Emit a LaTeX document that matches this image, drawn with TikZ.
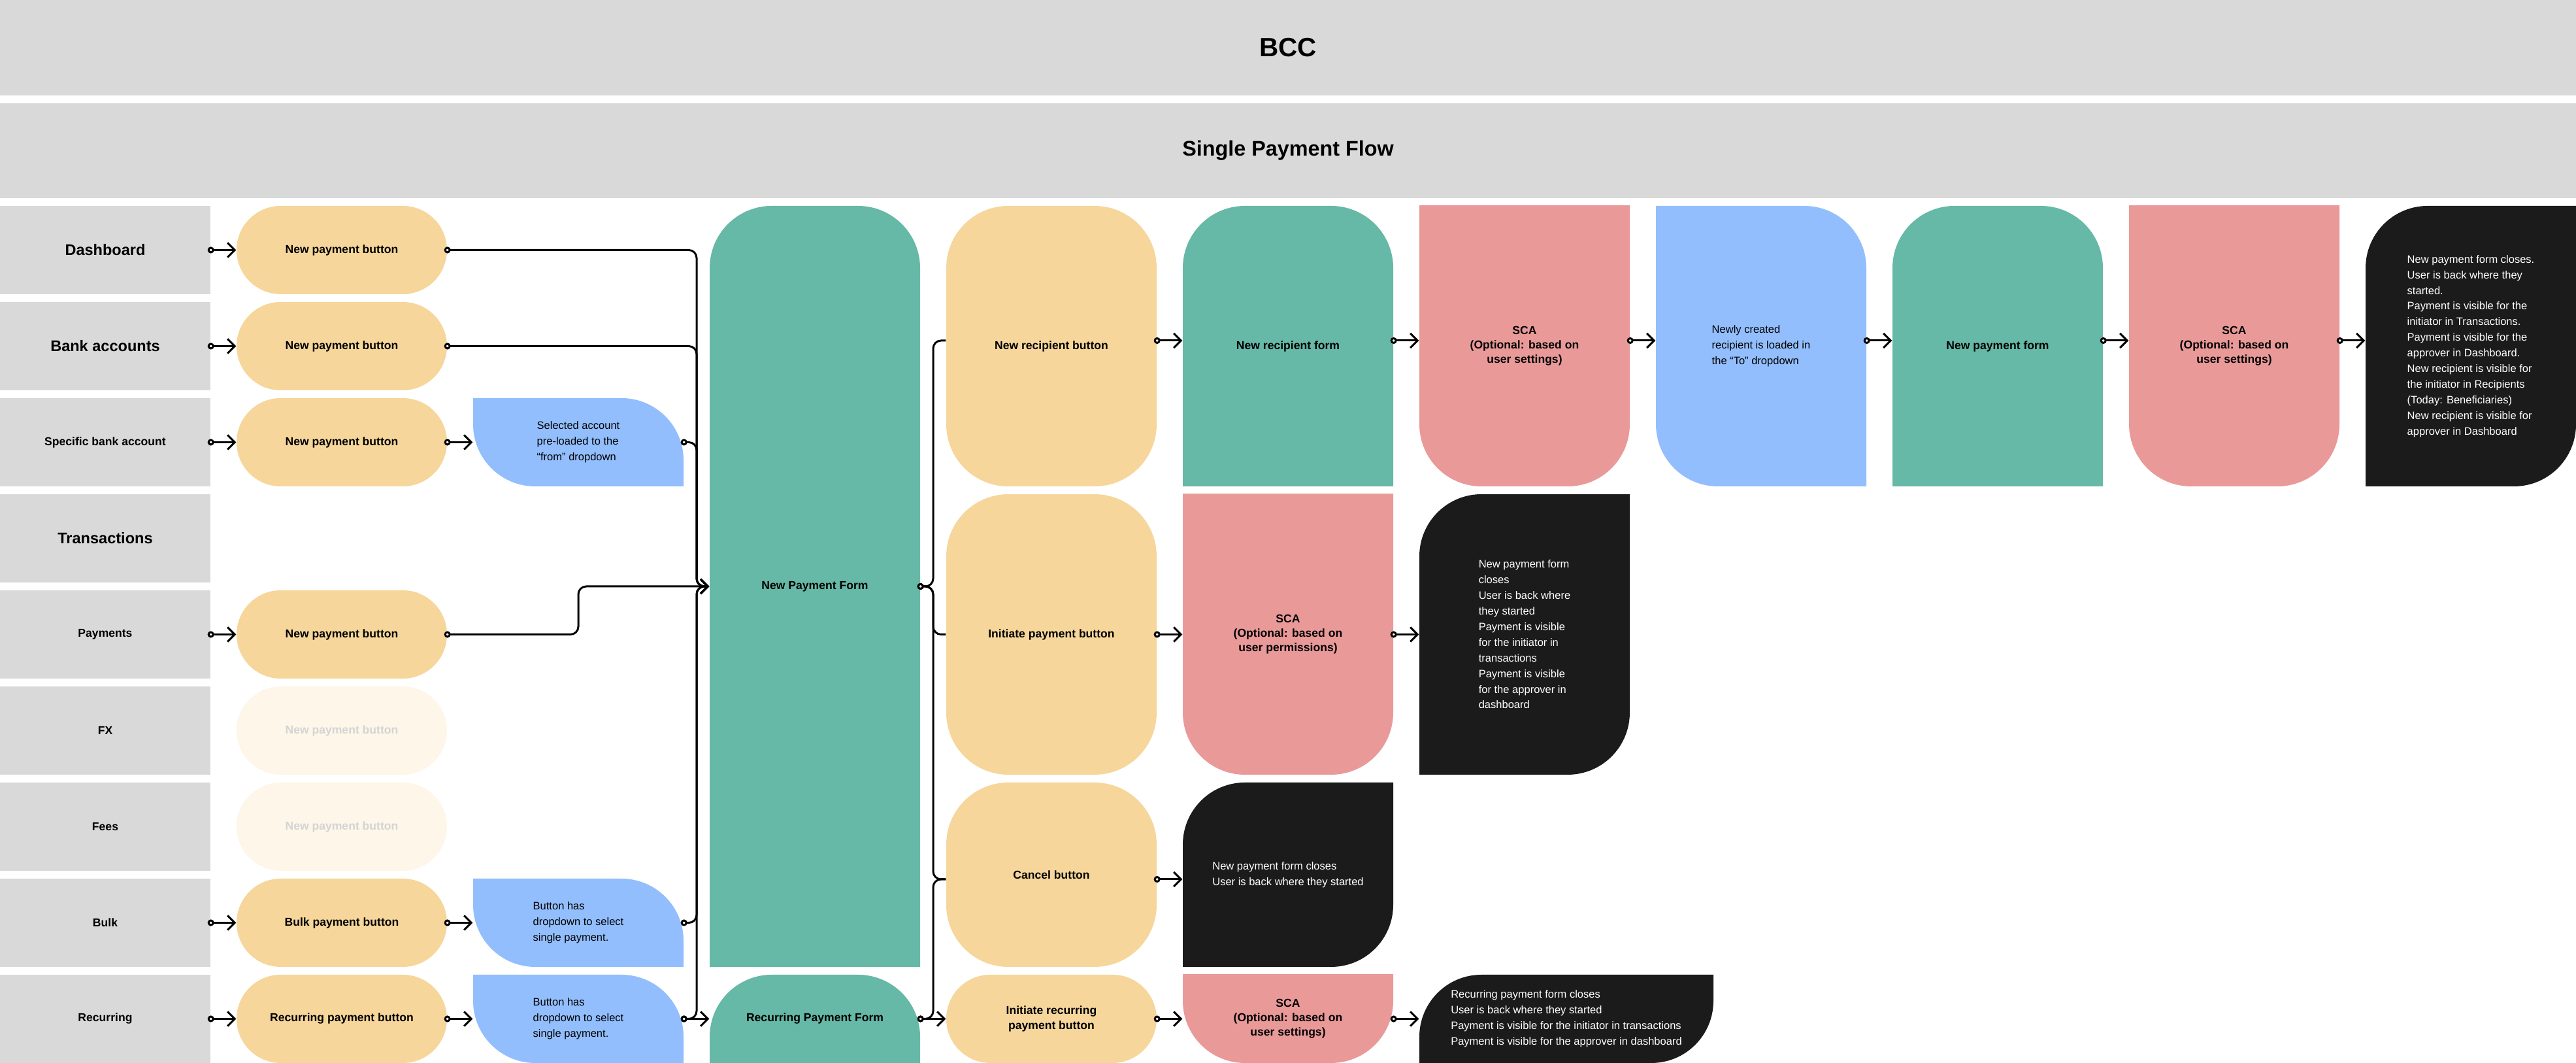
\documentclass[tikz,border=0pt]{standalone}
\usepackage{fontspec}
\setmainfont{Liberation Sans}
\usetikzlibrary{arrows.meta}
\definecolor{bandgray}{HTML}{D9D9D9}
\definecolor{btnyellow}{HTML}{F6D69B}
\definecolor{formgreen}{HTML}{66B8A7}
\definecolor{scapink}{HTML}{EA9999}
\definecolor{infoblue}{HTML}{93BEFD}
\definecolor{endblack}{HTML}{1B1B1B}
\definecolor{fadeyellow}{HTML}{FDF6E9}
\definecolor{fadetext}{HTML}{D4D4D4}

\begin{document}
\begin{tikzpicture}[
	base/.style={ rectangle, fill=white, inner sep=0pt, minimum width=3.22cm, minimum height=1.35cm, align=center, font=\fontsize{5}{6.3}\selectfont\bfseries },
	band/.style={ base, fill=bandgray, minimum width=39.42cm },
	lab/.style={ base, fill=bandgray },
	labbig/.style={ lab, font=\fontsize{6.7}{8}\selectfont\bfseries },
	pill/.style={ base, fill=#1, rounded corners=6.75mm },
	allround/.style={ base, fill=#1, rounded corners=9.5mm },
	toparc/.style={ base, path picture={ \fill[#1, rounded corners=9.5mm] ([yshift=-2cm]path picture bounding box.south west) rectangle (path picture bounding box.north east); } },
	botarc/.style={ base, path picture={ \fill[#1, rounded corners=9.5mm] (path picture bounding box.south west) rectangle ([yshift=2cm]path picture bounding box.north east); } },
	leaf/.style={ base, path picture={
		\clip[rounded corners=9.5mm] (path picture bounding box.south west) rectangle ([shift={(2cm,2cm)}]path picture bounding box.north east);
		\fill[#1, rounded corners=9.5mm] ([shift={(-2cm,-2cm)}]path picture bounding box.south west) rectangle (path picture bounding box.north east); } },
	wing/.style={ base, path picture={
		\clip[rounded corners=9.5mm] (path picture bounding box.north west) rectangle ([shift={(2cm,-2cm)}]path picture bounding box.south east);
		\fill[#1, rounded corners=9.5mm] ([shift={(-2cm,2cm)}]path picture bounding box.north west) rectangle (path picture bounding box.south east); } },
	hint/.style={ leaf=infoblue, align=left, font=\fontsize{4.7}{6.8}\selectfont },
	endnote/.style={ wing=endblack, align=left, text=white, font=\fontsize{4.7}{6.8}\selectfont },
	faded/.style={ pill=fadeyellow, text=fadetext },
	conn/.style={ line width=0.85pt, rounded corners=1.2mm, {Circle[length=1mm, width=1mm, fill=white]}-{Straight Barb[length=1.1mm, width=2.2mm]}, shorten <=-0.5mm },
	conno/.style={ line width=0.85pt, rounded corners=1.2mm, {Circle[length=1mm, width=1mm, fill=white]}-, shorten <=-0.5mm }
]
\useasboundingbox (0,0) rectangle (39.42,16.26);

\node[band, minimum height=1.46cm, font=\fontsize{11.5}{14}\selectfont\bfseries] at (19.71,15.53) (bcc) {BCC};
\node[band, minimum height=1.45cm, font=\fontsize{9.2}{11}\selectfont\bfseries] at (19.71,13.955) (spf) {Single Payment Flow};

% entry points
\node[labbig] at (1.61,12.435) (l1) {Dashboard};
\node[labbig] at (1.61,10.965) (l2) {Bank accounts};
\node[lab] at (1.61,9.495) (l3) {Specific bank account};
\node[labbig] at (1.61,8.025) (l4) {Transactions};
\node[lab] at (1.61,6.555) (l5) {Payments};
\node[lab] at (1.61,5.085) (l6) {FX};
\node[lab] at (1.61,3.615) (l7) {Fees};
\node[lab] at (1.61,2.145) (l8) {Bulk};
\node[lab] at (1.61,0.675) (l9) {Recurring};

\node[pill=btnyellow] at (5.23,12.435) (b1) {New payment button};
\node[pill=btnyellow] at (5.23,10.965) (b2) {New payment button};
\node[pill=btnyellow] at (5.23,9.495) (b3) {New payment button};
\node[pill=btnyellow] at (5.23,6.555) (b5) {New payment button};
\node[faded] at (5.23,5.085) (b6) {New payment button};
\node[faded] at (5.23,3.615) (b7) {New payment button};
\node[pill=btnyellow] at (5.23,2.145) (b8) {Bulk payment button};
\node[pill=btnyellow] at (5.23,0.675) (b9) {Recurring payment button};

\node[hint] at (8.85,9.495) (s3) {Selected account\\pre-loaded to the\\“from” dropdown};
\node[hint] at (8.85,2.145) (s8) {Button has\\dropdown to select\\single payment.};
\node[hint] at (8.85,0.675) (s9) {Button has\\dropdown to select\\single payment.};

% forms
\node[toparc=formgreen, minimum height=11.64cm] at (12.47,7.29) (npf) {New Payment Form};
\node[toparc=formgreen] at (12.47,0.675) (rpf) {Recurring Payment Form};

\node[allround=btnyellow, minimum height=4.29cm] at (16.09,10.965) (nrb) {New recipient button};
\node[allround=btnyellow, minimum height=4.29cm] at (16.09,6.555) (ipb) {Initiate payment button};
\node[allround=btnyellow, minimum height=2.82cm] at (16.09,2.88) (cb) {Cancel button};
\node[pill=btnyellow] at (16.09,0.675) (irb) {Initiate recurring\\payment button};

\node[toparc=formgreen, minimum height=4.29cm] at (19.71,10.965) (nrf) {New recipient form};
\node[botarc=scapink, minimum height=4.29cm] at (19.71,6.555) (sca2) {SCA\\(Optional: based on\\user permissions)};
\node[endnote, minimum height=2.82cm] at (19.71,2.88) (cend) {New payment form closes\\User is back where they started};
\node[botarc=scapink] at (19.71,0.675) (sca4) {SCA\\(Optional: based on\\user settings)};

\node[botarc=scapink, minimum height=4.29cm] at (23.33,10.965) (sca1) {SCA\\(Optional: based on\\user settings)};
\node[endnote, minimum height=4.29cm] at (23.33,6.555) (pend) {New payment form\\closes\\User is back where\\they started\\Payment is visible\\for the initiator in\\transactions\\Payment is visible\\for the approver in\\dashboard};
\node[endnote, minimum width=4.5cm] at (23.97,0.675) (rend) {Recurring payment form closes\\User is back where they started\\Payment is visible for the initiator in transactions\\Payment is visible for the approver in dashboard};

\node[hint, minimum height=4.29cm] at (26.95,10.965) (load) {Newly created\\recipient is loaded in\\the “To” dropdown};
\node[toparc=formgreen, minimum height=4.29cm] at (30.57,10.965) (npf2) {New payment form};
\node[botarc=scapink, minimum height=4.29cm] at (34.19,10.965) (sca3) {SCA\\(Optional: based on\\user settings)};
\node[endnote, minimum height=4.29cm] at (37.81,10.965) (done) {New payment form closes.\\User is back where they\\started.\\Payment is visible for the\\initiator in Transactions.\\Payment is visible for the\\approver in Dashboard.\\New recipient is visible for\\the initiator in Recipients\\(Today: Beneficiaries)\\New recipient is visible for\\approver in Dashboard};

\coordinate (lbus) at (10.66,0);
\coordinate (jog) at (8.85,0);
\coordinate (rbus) at (14.28,0);
\coordinate (nrbin) at ([yshift=.85mm]nrb.west);
\coordinate (cbin) at ([yshift=-.7mm]cb.west);

\draw[conn] (l1) -- (b1);
\draw[conn] (l2) -- (b2);
\draw[conn] (l3) -- (b3);
\draw[conn] (l5) -- (b5);
\draw[conn] (l8) -- (b8);
\draw[conn] (l9) -- (b9);
\draw[conn] (b3) -- (s3);
\draw[conn] (b8) -- (s8);
\draw[conn] (b9) -- (s9);

\draw[conn] (b1.east) -| (lbus |- npf.west) -- (npf.west);
\draw[conn] (b2.east) -| (lbus |- npf.west) -- (npf.west);
\draw[conn] (s3.east) -| (lbus |- npf.west) -- (npf.west);
\draw[conn] (b5.east) -| (jog |- npf.west) -- (npf.west);
\draw[conn] (s8.east) -| (lbus |- npf.west) -- (npf.west);
\draw[conn] (s9.east) -| (lbus |- npf.west) -- (npf.west);
\draw[conn] (s9.east) -- (rpf.west);

\draw[conno] (npf.east) -| (rbus |- nrbin) -- (nrbin);
\draw[conno] (npf.east) -| (rbus |- ipb.west) -- (ipb.west);
\draw[conno] (npf.east) -| (rbus |- cbin) -- (cbin);
\draw[conno] (rpf.east) -| (rbus |- cbin) -- (cbin);
\draw[conn] (rpf.east) -- (irb.west);

\draw[conn] ([yshift=.85mm]nrb.east) -- ([yshift=.85mm]nrf.west);
\draw[conn] ([yshift=.85mm]nrf.east) -- ([yshift=.85mm]sca1.west);
\draw[conn] ([yshift=.85mm]sca1.east) -- ([yshift=.85mm]load.west);
\draw[conn] ([yshift=.85mm]load.east) -- ([yshift=.85mm]npf2.west);
\draw[conn] ([yshift=.85mm]npf2.east) -- ([yshift=.85mm]sca3.west);
\draw[conn] ([yshift=.85mm]sca3.east) -- ([yshift=.85mm]done.west);

\draw[conn] (ipb) -- (sca2);
\draw[conn] (sca2) -- (pend);
\draw[conn] ([yshift=-.7mm]cb.east) -- ([yshift=-.7mm]cend.west);
\draw[conn] (irb) -- (sca4);
\draw[conn] (sca4) -- (rend);

\end{tikzpicture}
\end{document}
